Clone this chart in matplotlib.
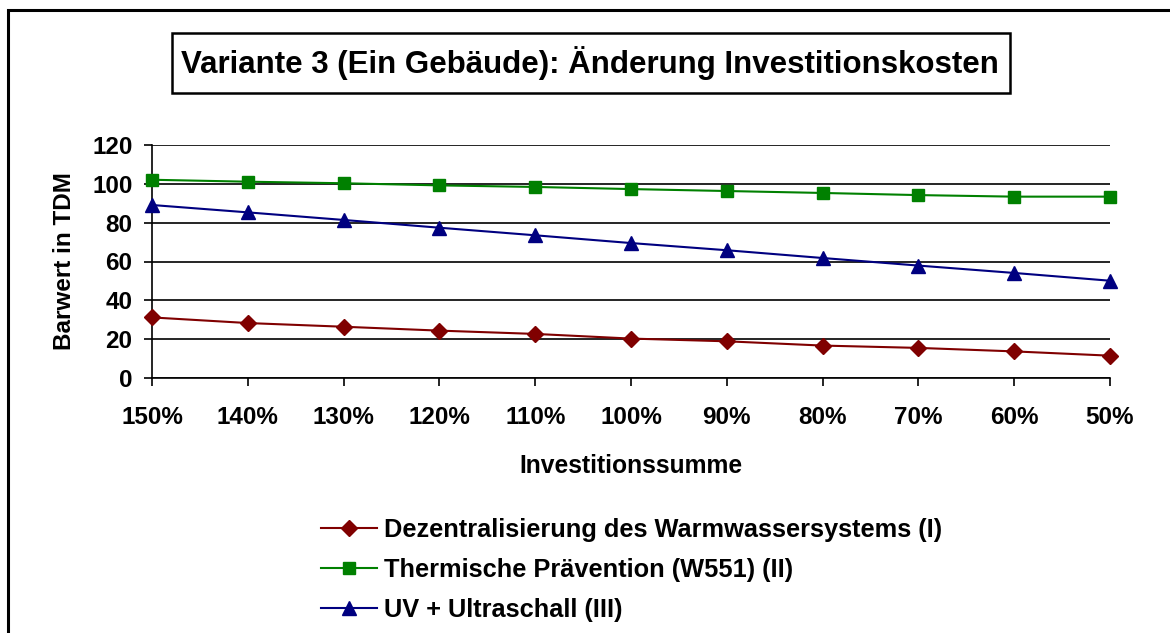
import matplotlib
matplotlib.use("Agg")
import matplotlib.pyplot as plt
from matplotlib.patches import Rectangle

# data
categories = ["150%", "140%", "130%", "120%", "110%", "100%", "90%", "80%", "70%", "60%", "50%"]
dezentral = [31.2, 28.3, 26.4, 24.4, 22.7, 20.3, 18.9, 16.7, 15.5, 13.7, 11.5]
thermisch = [102.1, 101.1, 100.3, 99.2, 98.4, 97.3, 96.3, 95.3, 94.2, 93.4, 93.4]
uv_ultra = [89.1, 85.3, 81.4, 77.4, 73.5, 69.5, 65.8, 61.8, 57.9, 54.1, 50.1]
labels = ["Dezentralisierung des Warmwassersystems (I)",
          "Thermische Prävention (W551) (II)",
          "UV + Ultraschall (III)"]

W, H = 1170, 633
plt.rcParams["font.family"] = ["Liberation Sans", "DejaVu Sans"]
plt.rcParams["font.weight"] = "bold"

fig = plt.figure(figsize=(W / 100, H / 100), dpi=100)
ax = fig.add_axes([152 / W, 1 - 378 / H, (1110 - 152) / W, (378 - 145) / H])

xs = list(range(len(categories)))
series = [(dezentral, "#800000", "D", 8), (thermisch, "#008000", "s", 8.5), (uv_ultra, "#000080", "^", 10)]
handles = []
for vals, col, mk, ms in series:
    h, = ax.plot(xs, vals, color=col, lw=1.5, marker=mk, ms=ms, mec=col, mfc=col, clip_on=False, zorder=3)
    handles.append(h)

ax.set_xlim(0, 10)
ax.set_ylim(0, 120)
ax.set_yticks(range(0, 121, 20))
ax.set_xticks(xs)
ax.set_xticklabels(categories)
ax.yaxis.grid(True, color="black", lw=1.2)
ax.set_axisbelow(True)
for s in ["top", "right"]:
    ax.spines[s].set_visible(False)
for s in ["left", "bottom"]:
    ax.spines[s].set_linewidth(1.2)
ax.tick_params(axis="both", direction="out", length=6, width=1.2, labelsize=17.5)
ax.tick_params(axis="x", pad=14)
ax.tick_params(axis="y", pad=8)
ax.set_xlabel("Investitionssumme", fontsize=17.7, fontweight="bold", labelpad=18)
ax.set_ylabel("Barwert in TDM", fontsize=17.5, fontweight="bold", labelpad=12)

# outer chart border (runs off the right and bottom edge)
fig.patches.append(Rectangle((8 / W, -0.2), 1.2, 1 - 10 / H + 0.2, transform=fig.transFigure,
                             fill=False, ec="black", lw=2.2))
# title box
fig.patches.append(Rectangle((172 / W, 1 - 93 / H), (1010 - 172) / W, 60 / H, transform=fig.transFigure,
                             fill=False, ec="black", lw=1.8))
fig.text(590 / W, 1 - 63 / H, "Variante 3 (Ein Gebäude): Änderung Investitionskosten",
         ha="center", va="center", fontsize=22.5, fontweight="bold")

fig.legend(handles, labels, loc="upper left", bbox_to_anchor=(308 / W, 1 - 505 / H), frameon=False,
           fontsize=18.3, handlelength=2.2, handletextpad=0.3, labelspacing=0.63, borderpad=0)

fig.savefig("out.png", dpi=100)
